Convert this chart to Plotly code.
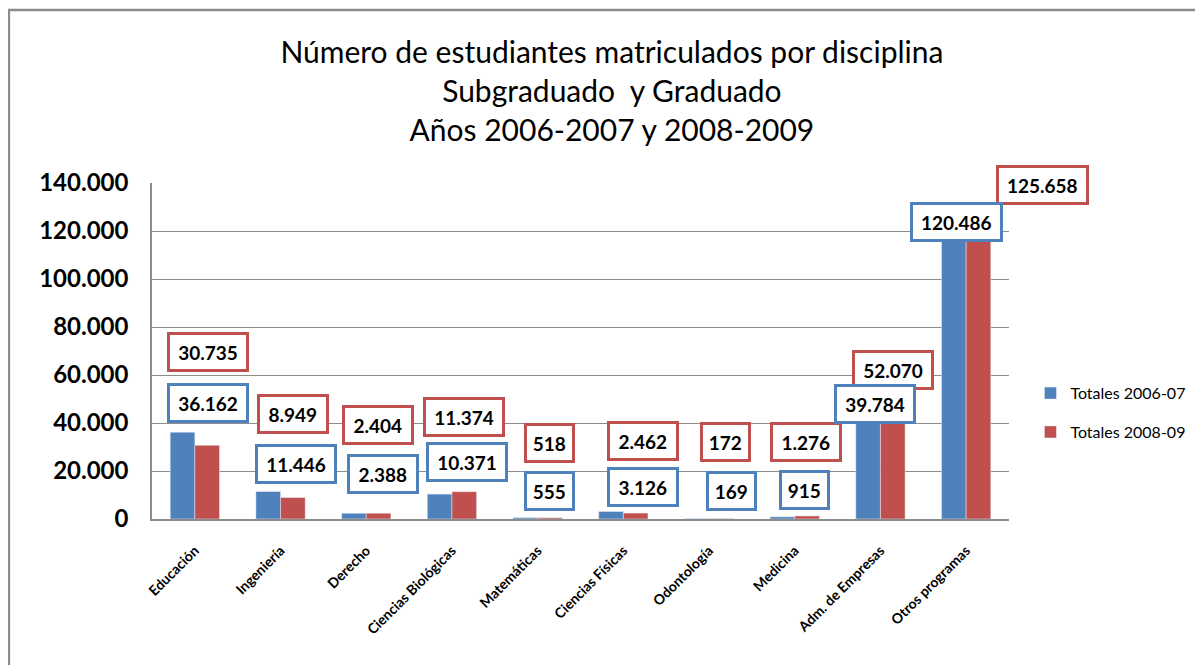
import plotly.graph_objects as go

# categorias y totales por periodo
disciplinas = ["Educación", "Ingeniería", "Derecho", "Ciencias Biológicas", "Matemáticas",
               "Ciencias Físicas", "Odontología", "Medicina", "Adm. de Empresas", "Otros programas"]
totales_0607 = [36162, 11446, 2388, 10371, 555, 3126, 169, 915, 39784, 120486]
totales_0809 = [30735, 8949, 2404, 11374, 518, 2462, 172, 1276, 52070, 125658]

# posicion de las etiquetas (movidas a mano en el original): desplazamiento en categorias y altura en y
etq_0607_dx = [0.15, 0.18, 0.19, 0.17, 0.14, 0.23, 0.26, 0.11, -0.06, -0.11]
etq_0607_y = [48460, 22920, 18750, 23670, 11790, 13380, 11790, 12210, 47960, 123790]
etq_0809_dx = [0.15, 0.14, 0.14, 0.14, 0.14, 0.23, 0.19, 0.13, 0.15, 0.89]
etq_0809_y = [69600, 43750, 39170, 42330, 31500, 32420, 32130, 32130, 62210, 139000]

AZUL = "#4F81BD"
ROJO = "#C0504D"
GRIS = "#8C8C8C"
FUENTE = "Lato"
ANCHO_CAT = 85.7  # px por categoria (857 px / 10)


def fmt(v):
    return f"{v:,}".replace(",", ".")


fig = go.Figure()
fig.add_trace(go.Bar(x=disciplinas, y=totales_0607, name="Totales 2006-07",
                     marker_color=AZUL, legendgroup="a"))
fig.add_trace(go.Bar(x=disciplinas, y=totales_0809, name="Totales 2008-09",
                     marker_color=ROJO, legendgroup="b"))

anotaciones = []
for vals, dxs, ys, color in [(totales_0809, etq_0809_dx, etq_0809_y, ROJO),
                             (totales_0607, etq_0607_dx, etq_0607_y, AZUL)]:
    for i, v in enumerate(vals):
        txt = fmt(v)
        anotaciones.append(dict(
            x=disciplinas[i], y=ys[i], xref="x", yref="y", xshift=dxs[i] * ANCHO_CAT,
            text=txt, showarrow=False,
            font=dict(family=FUENTE, size=19, color="black", weight="bold"),
            bgcolor="white", bordercolor=color, borderwidth=3, borderpad=2,
            width=10.5 * len(txt) + 9, height=30,
        ))

# la pagina tiene 8px de margen en el body: se descuentan de los margenes
fig.update_layout(
    width=1203, height=665,
    margin=dict(l=144, r=202, t=175, b=154),
    paper_bgcolor="white", plot_bgcolor="white",
    separators=",.",
    barmode="group", bargap=0.425, bargroupgap=0,
    title=dict(
        text="Número de estudiantes matriculados por disciplina<br>Subgraduado  y Graduado<br>Años 2006-2007 y 2008-2009",
        x=0.502, xanchor="center", y=1 - 55 / 665, yanchor="middle", yref="container",
        font=dict(family=FUENTE, size=30, color="black"),
    ),
    font=dict(family=FUENTE, color="black"),
    legend=dict(x=1.025, xanchor="left", y=0.425, yanchor="top",
                font=dict(family=FUENTE, size=16, color="black"),
                traceorder="grouped", tracegroupgap=15,
                bgcolor="rgba(0,0,0,0)"),
    annotations=anotaciones,
    shapes=[
        dict(type="line", xref="paper", yref="paper", x0=-0.167, x1=-0.167, y0=1.515, y1=-0.45,
             line=dict(color=GRIS, width=2.5)),
        dict(type="line", xref="paper", yref="paper", x0=-0.168, x1=1.24, y0=1.515, y1=1.515,
             line=dict(color=GRIS, width=2.5)),
    ],
)

fig.update_yaxes(
    range=[0, 140000], dtick=20000, tickformat=",d",
    showgrid=True, gridcolor=GRIS, gridwidth=1,
    showline=True, linecolor=GRIS, linewidth=1.5,
    zeroline=False, ticks="", ticklabelstandoff=17,
    tickfont=dict(family=FUENTE, size=24, color="black", weight="bold"),
)
fig.update_xaxes(
    range=[-0.5, 9.5], tickangle=-45, showline=True, linecolor=GRIS, linewidth=2,
    ticks="", ticklabelstandoff=16,
    tickfont=dict(family=FUENTE, size=14, color="black", weight="bold"),
)

fig.write_html("out.html")
